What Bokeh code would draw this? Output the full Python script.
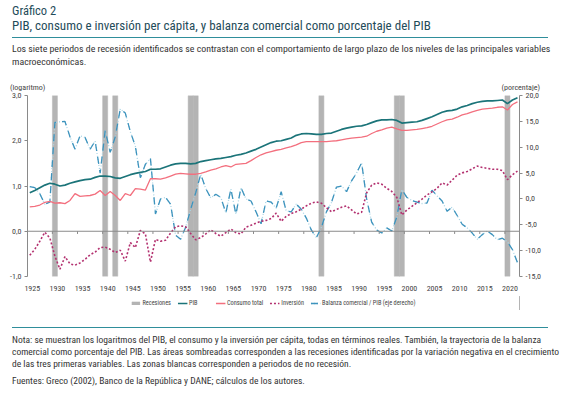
from bokeh.plotting import figure
from bokeh.models import (Range1d, LinearAxis, FixedTicker, Legend, LegendItem,
                          Div, Span)
from bokeh.layouts import column
from bokeh.embed import file_html
from bokeh.resources import INLINE

# ---------------- data ----------------
years = list(range(1925, 2023))

pib = [0.85, 0.90, 0.96, 1.02, 1.06, 1.04, 1.00, 1.02, 1.06, 1.09,
       1.12, 1.14, 1.15, 1.19, 1.22, 1.22, 1.21, 1.18, 1.17, 1.21,
       1.25, 1.28, 1.30, 1.32, 1.37, 1.37, 1.38, 1.42, 1.46, 1.49,
       1.50, 1.50, 1.49, 1.50, 1.54, 1.56, 1.58, 1.60, 1.61, 1.63,
       1.65, 1.68, 1.70, 1.73, 1.77, 1.81, 1.86, 1.91, 1.96, 1.99,
       2.00, 2.03, 2.06, 2.12, 2.15, 2.16, 2.15, 2.14, 2.14, 2.16,
       2.17, 2.21, 2.25, 2.28, 2.30, 2.32, 2.33, 2.36, 2.40, 2.44,
       2.46, 2.46, 2.47, 2.45, 2.39, 2.40, 2.41, 2.42, 2.45, 2.49,
       2.53, 2.58, 2.63, 2.66, 2.67, 2.70, 2.75, 2.78, 2.82, 2.85,
       2.87, 2.88, 2.88, 2.89, 2.90, 2.82, 2.90, 2.95]

consumo = [0.54, 0.55, 0.58, 0.64, 0.66, 0.62, 0.63, 0.61, 0.68, 0.83,
           0.77, 0.78, 0.79, 0.82, 0.90, 0.79, 0.88, 0.79, 0.68, 0.83,
           0.79, 0.94, 0.93, 0.91, 1.16, 1.16, 1.15, 1.18, 1.22, 1.26,
           1.28, 1.27, 1.26, 1.26, 1.28, 1.31, 1.35, 1.38, 1.42, 1.45,
           1.42, 1.48, 1.49, 1.50, 1.56, 1.63, 1.69, 1.73, 1.76, 1.79,
           1.81, 1.84, 1.87, 1.91, 1.96, 1.98, 1.98, 1.98, 1.98, 1.98,
           1.99, 2.00, 2.02, 2.04, 2.06, 2.07, 2.08, 2.10, 2.16, 2.21,
           2.24, 2.28, 2.30, 2.26, 2.23, 2.23, 2.24, 2.25, 2.27, 2.29,
           2.32, 2.37, 2.42, 2.46, 2.48, 2.52, 2.57, 2.60, 2.64, 2.67,
           2.70, 2.71, 2.72, 2.74, 2.75, 2.68, 2.80, 2.86]

inversion = [-0.53, -0.40, -0.22, -0.02, -0.15, -0.55, -0.84, -0.56, -0.72, -0.75,
             -0.70, -0.62, -0.52, -0.46, -0.36, -0.35, -0.40, -0.47, -0.42, -0.66,
             -0.25, -0.36, 0.02, -0.06, -0.68, -0.18, -0.22, -0.20, -0.04, 0.10,
             0.12, 0.10, -0.05, -0.19, -0.14, -0.06, 0.03, -0.05, -0.11, -0.03,
             0.05, -0.03, -0.06, 0.09, 0.13, 0.18, 0.22, 0.24, 0.28, 0.40,
             0.22, 0.33, 0.39, 0.43, 0.49, 0.56, 0.62, 0.65, 0.62, 0.52,
             0.43, 0.48, 0.53, 0.56, 0.47, 0.38, 0.42, 0.85, 1.02, 1.07,
             1.04, 0.95, 0.88, 0.75, 0.36, 0.47, 0.55, 0.63, 0.71, 0.80,
             0.87, 0.95, 1.07, 1.02, 1.13, 1.24, 1.29, 1.32, 1.38, 1.44,
             1.41, 1.39, 1.37, 1.37, 1.34, 1.14, 1.25, 1.33]

balanza = [2.4, 2.2, 1.0, -1.0, -0.6, 14.8, 14.9, 15.0, 12.0, 9.6,
           12.2, 11.9, 9.6, 11.2, 5.0, 13.2, 9.0, 12.0, 17.4, 16.6,
           13.0, 10.2, 4.1, 6.7, 7.8, -2.9, 0.0, 0.3, -1.0, -7.0,
           -7.8, -5.5, -2.0, 1.2, 4.8, 2.0, 0.2, 0.9, 0.3, -2.7,
           1.9, -3.0, 2.2, 0.0, -0.4, -2.5, -4.8, -0.4, -0.6, -1.8,
           1.4, -2.3, -2.5, -1.0, -2.0, -3.7, -6.0, -7.5, -5.5, -2.5,
           -0.7, 2.3, 2.5, 1.4, 3.5, 5.0, 7.0, 0.0, -4.5, -6.0,
           -6.6, -5.6, -6.2, -3.5, 1.8, 0.3, -0.3, -0.6, -0.9, -0.8,
           1.7, 0.6, -0.4, -2.4, -1.6, -3.2, -4.9, -5.6, -6.6, -7.8,
           -6.9, -6.2, -6.9, -7.9, -7.6, -8.3, -9.8, -12.3]

recesiones = [1930, 1940, 1942, 1957, 1958, 1983, 1998, 1999, 2020]

x_tick_years = [1925, 1930, 1935, 1940, 1945, 1950, 1955, 1960, 1965, 1970,
                1975, 1980, 1985, 1990, 1995, 2000, 2005, 2010, 2015, 2020]
left_ticks = [-1, 0, 1, 2, 3]
right_ticks = [-15, -10, -5, 0, 5, 10, 15, 20]

legend_labels = ["Recesiones", "PIB", "Consumo total", "Inversión",
                 "Balanza comercial / PIB (eje derecho)"]

FONT = "Roboto Condensed"

C_PIB = "#1b7479"
C_CONS = "#f36f7e"
C_INV = "#b3306f"
C_BAL = "#3d93bd"
C_BAL_L = "#a9d5e6"
C_REC = "#b4b4b4"
C_AX = "#8a8a8a"
C_TXT = "#444444"

STY_REC = dict(fill_color=C_REC, line_color=C_REC, line_width=0.5)
STY_BAL1 = dict(line_color=C_BAL_L, line_width=1.3, line_dash="1 2")
STY_BAL2 = dict(line_color=C_BAL, line_width=1.3, line_dash="7 6")
STY_INV = dict(line_color=C_INV, line_width=1.6, line_dash="2 2")
STY_CONS = dict(line_color=C_CONS, line_width=1.3)
STY_PIB = dict(line_color=C_PIB, line_width=1.7)

# ---------------- main figure ----------------
p = figure(width=561, height=204, output_backend="svg", toolbar_location=None,
           x_range=Range1d(1924.55, 2022.4), y_range=Range1d(-1, 3),
           min_border_left=27, min_border_right=42, min_border_top=3,
           min_border_bottom=20, margin=0)
p.outline_line_color = None
p.xgrid.grid_line_color = None
p.ygrid.grid_line_color = None
p.extra_y_ranges = {"right": Range1d(-15, 20)}

p.vbar(x=recesiones, width=1, top=3, bottom=-1, **STY_REC)

p.add_layout(Span(location=0, dimension="width", line_color=C_AX, line_width=1))
p.segment(x0=[t - 0.5 for t in x_tick_years], x1=[t - 0.5 for t in x_tick_years],
          y0=[0] * len(x_tick_years), y1=[-0.06] * len(x_tick_years),
          line_color=C_AX, line_width=1)

p.line(years, balanza, y_range_name="right", **STY_BAL1)
p.line(years, balanza, y_range_name="right", **STY_BAL2)
p.line(years, inversion, **STY_INV)
p.line(years, consumo, **STY_CONS)
p.line(years, pib, **STY_PIB)

yax = p.yaxis[0]
yax.ticker = FixedTicker(ticks=left_ticks)
yax.major_label_overrides = {t: f"{t:.1f}".replace(".", ",") for t in left_ticks}
yax.axis_line_color = C_AX
yax.major_tick_line_color = C_AX
yax.major_tick_out = 3
yax.major_tick_in = 0
yax.minor_tick_line_color = None
yax.major_label_standoff = 3
yax.major_label_text_font = FONT
yax.major_label_text_font_size = "8px"
yax.major_label_text_color = C_TXT

rax = LinearAxis(y_range_name="right", ticker=FixedTicker(ticks=right_ticks))
rax.major_label_overrides = {t: f"{t:.1f}".replace(".", ",") for t in right_ticks}
rax.axis_line_color = C_AX
rax.major_tick_line_color = C_AX
rax.major_tick_out = 3
rax.major_tick_in = 0
rax.minor_tick_line_color = None
rax.major_label_standoff = 3
rax.major_label_text_font = FONT
rax.major_label_text_font_size = "8px"
rax.major_label_text_color = C_TXT
p.add_layout(rax, "right")

xax = p.xaxis[0]
xax.ticker = FixedTicker(ticks=[t + 0.5 for t in x_tick_years])
xax.major_label_overrides = {t + 0.5: str(t) for t in x_tick_years}
xax.axis_line_color = None
xax.major_tick_line_color = None
xax.minor_tick_line_color = None
xax.major_label_standoff = 3
xax.major_label_text_font = FONT
xax.major_label_text_font_size = "8px"
xax.major_label_text_color = C_TXT

# ---------------- legend strip (own small figure, data kept out of view) ----------------
lg = figure(width=561, height=14, output_backend="svg", toolbar_location=None,
            x_range=Range1d(0, 1), y_range=Range1d(0, 1), x_axis_type=None,
            y_axis_type=None, min_border=0, margin=0)
lg.outline_line_color = None
lg.xgrid.grid_line_color = None
lg.ygrid.grid_line_color = None
r_rec = lg.vbar(x=recesiones, width=1, top=3, bottom=-1, **STY_REC)
r_pib = lg.line(years, pib, **STY_PIB)
r_cons = lg.line(years, consumo, **STY_CONS)
r_inv = lg.line(years, inversion, **STY_INV)
r_bal1 = lg.line(years, balanza, **STY_BAL1)
r_bal2 = lg.line(years, balanza, **STY_BAL2)
legend = Legend(items=[
    LegendItem(label=legend_labels[0], renderers=[r_rec]),
    LegendItem(label=legend_labels[1], renderers=[r_pib]),
    LegendItem(label=legend_labels[2], renderers=[r_cons]),
    LegendItem(label=legend_labels[3], renderers=[r_inv]),
    LegendItem(label=legend_labels[4], renderers=[r_bal1, r_bal2]),
], orientation="horizontal", location="center")
legend.label_text_font = FONT
legend.label_text_font_size = "6.3px"
legend.label_text_color = C_TXT
legend.glyph_width = 10
legend.glyph_height = 4
legend.label_height = 10
legend.label_standoff = 2
legend.spacing = 6
legend.padding = 2
legend.margin = 0
legend.border_line_color = None
legend.background_fill_alpha = 0
lg.add_layout(legend)

# ---------------- header / footer ----------------
TITLE_C = "#1f4c5a"
RULE_C = "#2f8e9b"
CSS_FONT = "'Roboto Condensed', sans-serif"
header_html = f"""
<div style="position:relative; width:561px; height:92px; font-family:{CSS_FONT};">
 <div style="position:absolute; left:12px; top:4px; font-size:12.5px; line-height:13px; color:{TITLE_C}; white-space:nowrap;">Gráfico 2</div>
 <div style="position:absolute; left:12px; top:19px; font-size:13px; line-height:14px; color:{TITLE_C}; white-space:nowrap;">PIB, consumo e inversión per cápita, y balanza comercial como porcentaje del PIB</div>
 <div style="position:absolute; left:12px; top:37px; width:536px; height:0; border-top:1.5px solid {RULE_C};"></div>
 <div style="position:absolute; left:12px; top:42px; font-size:9.85px; line-height:13px; color:#333; white-space:nowrap;">Los siete periodos de recesión identificados se contrastan con el comportamiento de largo plazo de los niveles de las principales variables<br>macroeconómicas.</div>
 <div style="position:absolute; left:10px; top:83px; font-size:8px; line-height:10px; color:{C_TXT}; white-space:nowrap;">(logaritmo)</div>
 <div style="position:absolute; right:21px; top:83px; font-size:8px; line-height:10px; color:{C_TXT}; white-space:nowrap;">(porcentaje)</div>
</div>
"""
footer_html = f"""
<div style="position:relative; width:561px; height:88px; font-family:{CSS_FONT};">
 <div style="position:absolute; left:12px; top:17px; width:536px; height:0; border-top:1.5px solid {RULE_C};"></div>
 <div style="position:absolute; left:12px; top:24px; font-size:9.5px; line-height:12px; color:#333; white-space:nowrap;">Nota: se muestran los logaritmos del PIB, el consumo y la inversión per cápita, todas en términos reales. También, la trayectoria de la balanza<br>comercial como porcentaje del PIB. Las áreas sombreadas corresponden a las recesiones identificadas por la variación negativa en el crecimiento<br>de las tres primeras variables. Las zonas blancas corresponden a periodos de no recesión.</div>
 <div style="position:absolute; left:12px; top:65px; font-size:9.5px; line-height:12px; color:#333; white-space:nowrap;">Fuentes: Greco (2002), Banco de la República y DANE; cálculos de los autores.</div>
</div>
"""
header = Div(text=header_html, width=561, height=92, margin=0)
footer = Div(text=footer_html, width=561, height=88, margin=0)

layout = column(header, p, lg, footer, spacing=0, margin=0)
open("out.html", "w").write(file_html(layout, INLINE))
